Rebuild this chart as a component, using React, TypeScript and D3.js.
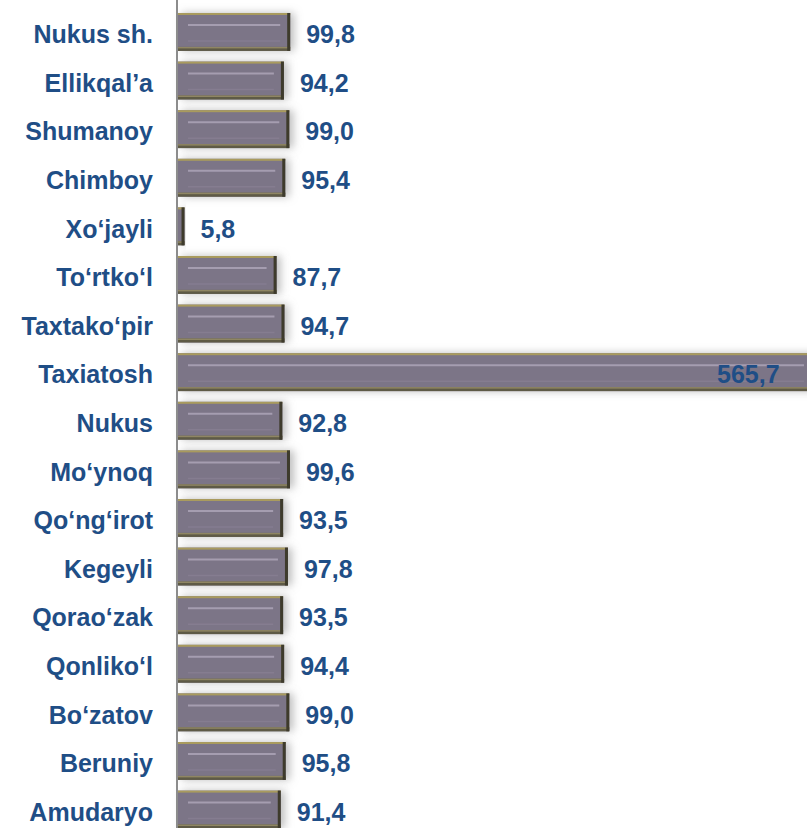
import React, { useRef, useEffect } from 'react';
import * as d3 from 'd3';

// districts top to bottom, values in percent
const districts = [
  'Nukus sh.', 'Ellikqal’a', 'Shumanoy', 'Chimboy', 'Xo‘jayli', 'To‘rtko‘l',
  'Taxtako‘pir', 'Taxiatosh', 'Nukus', 'Mo‘ynoq', 'Qo‘ng‘irot', 'Kegeyli',
  'Qorao‘zak', 'Qonliko‘l', 'Bo‘zatov', 'Beruniy', 'Amudaryo',
];
const values = [
  99.8, 94.2, 99.0, 95.4, 5.8, 87.7, 94.7, 565.7, 92.8, 99.6, 93.5, 97.8,
  93.5, 94.4, 99.0, 95.8, 91.4,
];

const W = 807;
const H = 828;
const TEXT = '#1F4E86';
const FONT = '"Liberation Sans", Arial, sans-serif';

const App = () => {
  const ref = useRef<SVGSVGElement>(null);

  useEffect(() => {
    const svg = d3.select(ref.current);
    svg.selectAll('*').remove();

    const data = districts.map((name, i) => ({ name, value: values[i] }));

    const x0 = 178;
    const x = d3.scaleLinear().domain([0, 99.8]).range([x0, 290.2]);
    const y = d3
      .scaleBand()
      .domain(districts)
      .range([2.3, 839.2])
      .padding(0.22);
    const bh = y.bandwidth();

    const defs = svg.append('defs');
    const f = defs
      .append('filter')
      .attr('id', 'glow')
      .attr('x', '-20%')
      .attr('y', '-40%')
      .attr('width', '140%')
      .attr('height', '180%');
    f.append('feFlood').attr('flood-color', '#9a9a9a').attr('flood-opacity', 0.65);
    f.append('feComposite').attr('in2', 'SourceAlpha').attr('operator', 'in');
    f.append('feOffset').attr('dx', 4).attr('dy', 0);
    f.append('feGaussianBlur').attr('stdDeviation', 4).attr('result', 'sh');
    const m = f.append('feMerge');
    m.append('feMergeNode').attr('in', 'sh');
    m.append('feMergeNode').attr('in', 'SourceGraphic');

    // bars
    const bars = svg
      .append('g')
      .selectAll('g')
      .data(data)
      .enter()
      .append('g')
      .attr('transform', (d) => `translate(0,${y(d.name)})`);

    bars
      .append('rect')
      .attr('x', x0)
      .attr('y', 0)
      .attr('width', (d) => x(d.value) - x0)
      .attr('height', bh)
      .attr('fill', '#7B7487')
      .attr('filter', 'url(#glow)');

    // gold top edge
    bars
      .append('rect')
      .attr('x', x0)
      .attr('y', 0)
      .attr('width', (d) => x(d.value) - x0)
      .attr('height', 2)
      .attr('fill', '#A99B5E');

    // dark bottom edge
    bars
      .append('rect')
      .attr('x', x0)
      .attr('y', bh - 4)
      .attr('width', (d) => x(d.value) - x0)
      .attr('height', 4)
      .attr('fill', '#5E5A46');
    bars
      .append('rect')
      .attr('x', x0)
      .attr('y', bh - 4)
      .attr('width', (d) => x(d.value) - x0)
      .attr('height', 1.5)
      .attr('fill', '#8F8663');

    // dark right edge
    bars
      .append('rect')
      .attr('x', (d) => Math.max(x0, x(d.value) - 3))
      .attr('y', 0)
      .attr('width', (d) => Math.min(3, x(d.value) - x0))
      .attr('height', bh)
      .attr('fill', '#3E3B2C');

    // bevel highlights
    bars
      .filter((d) => x(d.value) - x0 > 30)
      .append('line')
      .attr('x1', x0 + 10)
      .attr('x2', (d) => x(d.value) - 10)
      .attr('y1', 12)
      .attr('y2', 12)
      .attr('stroke', '#A59DB0')
      .attr('stroke-width', 2);
    bars
      .filter((d) => x(d.value) - x0 > 30)
      .append('line')
      .attr('x1', x0 + 10)
      .attr('x2', (d) => x(d.value) - 10)
      .attr('y1', 28)
      .attr('y2', 28)
      .attr('stroke', '#857D90')
      .attr('stroke-width', 1.5);

    // axis line
    svg
      .append('line')
      .attr('x1', 177)
      .attr('x2', 177)
      .attr('y1', 0)
      .attr('y2', H)
      .attr('stroke', '#8C8C8C')
      .attr('stroke-width', 2);

    // category labels
    svg
      .append('g')
      .selectAll('text')
      .data(data)
      .enter()
      .append('text')
      .attr('x', 153)
      .attr('y', (d) => (y(d.name) as number) + bh / 2 + 2.5)
      .attr('dy', '0.35em')
      .attr('text-anchor', 'end')
      .attr('fill', TEXT)
      .attr('font-family', FONT)
      .attr('font-weight', 'bold')
      .attr('font-size', 25)
      .text((d) => d.name);

    // value labels
    svg
      .append('g')
      .selectAll('text')
      .data(data)
      .enter()
      .append('text')
      .attr('x', (d) => Math.min(x(d.value) + 16, 717))
      .attr('y', (d) => (y(d.name) as number) + bh / 2 + 2.5)
      .attr('dy', '0.35em')
      .attr('fill', TEXT)
      .attr('font-family', FONT)
      .attr('font-weight', 'bold')
      .attr('font-size', 25)
      .text((d) => d3.format('.1f')(d.value).replace('.', ','));
  }, []);

  return (
    <svg
      ref={ref}
      width={W}
      height={H}
      style={{ position: 'absolute', left: 0, top: 0, background: '#fff' }}
    />
  );
};

export default App;
